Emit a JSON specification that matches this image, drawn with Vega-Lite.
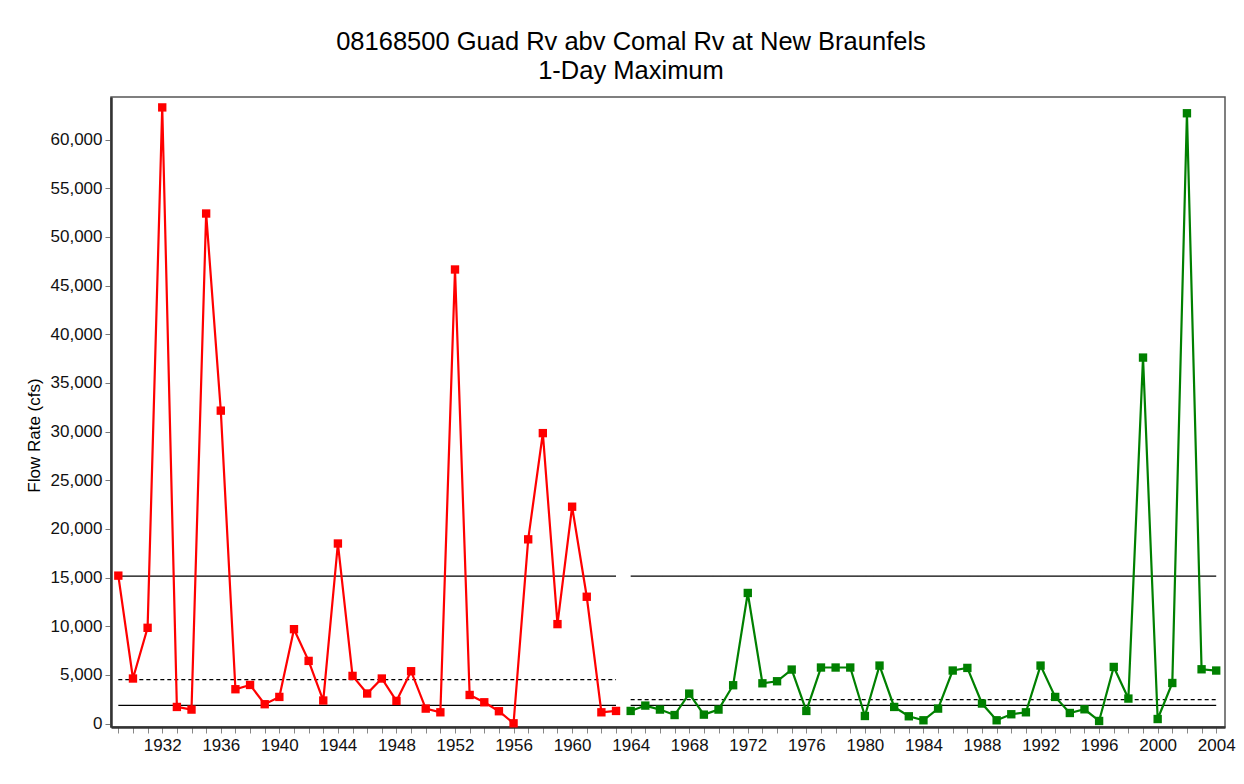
{
  "$schema": "https://vega.github.io/schema/vega-lite/v6.json",
  "autosize": "none",
  "width": 1114,
  "height": 630,
  "padding": {"left": 111, "top": 97, "right": 19, "bottom": 57},
  "background": "white",
  "config": {
    "font": "Liberation Sans",
    "view": {"stroke": "#555555", "strokeWidth": 1.5}
  },
  "title": {
    "text": ["08168500 Guad Rv abv Comal Rv at New Braunfels", "1-Day Maximum"],
    "font": "Liberation Sans",
    "fontSize": 25.5,
    "fontWeight": "normal",
    "color": "#000000",
    "anchor": "middle",
    "dx": -37,
    "offset": 13,
    "lineHeight": 29
  },
  "datasets": {
    "flows": [
      {"year": 1929, "flow": 15200, "period": "1929-1963"},
      {"year": 1930, "flow": 4630, "period": "1929-1963"},
      {"year": 1931, "flow": 9840, "period": "1929-1963"},
      {"year": 1932, "flow": 63300, "period": "1929-1963"},
      {"year": 1933, "flow": 1710, "period": "1929-1963"},
      {"year": 1934, "flow": 1440, "period": "1929-1963"},
      {"year": 1935, "flow": 52400, "period": "1929-1963"},
      {"year": 1936, "flow": 32150, "period": "1929-1963"},
      {"year": 1937, "flow": 3530, "period": "1929-1963"},
      {"year": 1938, "flow": 3970, "period": "1929-1963"},
      {"year": 1939, "flow": 1990, "period": "1929-1963"},
      {"year": 1940, "flow": 2740, "period": "1929-1963"},
      {"year": 1941, "flow": 9700, "period": "1929-1963"},
      {"year": 1942, "flow": 6440, "period": "1929-1963"},
      {"year": 1943, "flow": 2370, "period": "1929-1963"},
      {"year": 1944, "flow": 18500, "period": "1929-1963"},
      {"year": 1945, "flow": 4900, "period": "1929-1963"},
      {"year": 1946, "flow": 3090, "period": "1929-1963"},
      {"year": 1947, "flow": 4630, "period": "1929-1963"},
      {"year": 1948, "flow": 2330, "period": "1929-1963"},
      {"year": 1949, "flow": 5380, "period": "1929-1963"},
      {"year": 1950, "flow": 1540, "period": "1929-1963"},
      {"year": 1951, "flow": 1160, "period": "1929-1963"},
      {"year": 1952, "flow": 46650, "period": "1929-1963"},
      {"year": 1953, "flow": 2940, "period": "1929-1963"},
      {"year": 1954, "flow": 2190, "period": "1929-1963"},
      {"year": 1955, "flow": 1270, "period": "1929-1963"},
      {"year": 1956, "flow": 30, "period": "1929-1963"},
      {"year": 1957, "flow": 18930, "period": "1929-1963"},
      {"year": 1958, "flow": 29840, "period": "1929-1963"},
      {"year": 1959, "flow": 10220, "period": "1929-1963"},
      {"year": 1960, "flow": 22280, "period": "1929-1963"},
      {"year": 1961, "flow": 13030, "period": "1929-1963"},
      {"year": 1962, "flow": 1160, "period": "1929-1963"},
      {"year": 1963, "flow": 1300, "period": "1929-1963"},
      {"year": 1964, "flow": 1300, "period": "1964-2004"},
      {"year": 1965, "flow": 1850, "period": "1964-2004"},
      {"year": 1966, "flow": 1440, "period": "1964-2004"},
      {"year": 1967, "flow": 880, "period": "1964-2004"},
      {"year": 1968, "flow": 3080, "period": "1964-2004"},
      {"year": 1969, "flow": 920, "period": "1964-2004"},
      {"year": 1970, "flow": 1440, "period": "1964-2004"},
      {"year": 1971, "flow": 3940, "period": "1964-2004"},
      {"year": 1972, "flow": 13420, "period": "1964-2004"},
      {"year": 1973, "flow": 4140, "period": "1964-2004"},
      {"year": 1974, "flow": 4350, "period": "1964-2004"},
      {"year": 1975, "flow": 5550, "period": "1964-2004"},
      {"year": 1976, "flow": 1300, "period": "1964-2004"},
      {"year": 1977, "flow": 5760, "period": "1964-2004"},
      {"year": 1978, "flow": 5760, "period": "1964-2004"},
      {"year": 1979, "flow": 5760, "period": "1964-2004"},
      {"year": 1980, "flow": 780, "period": "1964-2004"},
      {"year": 1981, "flow": 5960, "period": "1964-2004"},
      {"year": 1982, "flow": 1710, "period": "1964-2004"},
      {"year": 1983, "flow": 750, "period": "1964-2004"},
      {"year": 1984, "flow": 340, "period": "1964-2004"},
      {"year": 1985, "flow": 1540, "period": "1964-2004"},
      {"year": 1986, "flow": 5450, "period": "1964-2004"},
      {"year": 1987, "flow": 5720, "period": "1964-2004"},
      {"year": 1988, "flow": 2060, "period": "1964-2004"},
      {"year": 1989, "flow": 340, "period": "1964-2004"},
      {"year": 1990, "flow": 960, "period": "1964-2004"},
      {"year": 1991, "flow": 1160, "period": "1964-2004"},
      {"year": 1992, "flow": 5960, "period": "1964-2004"},
      {"year": 1993, "flow": 2740, "period": "1964-2004"},
      {"year": 1994, "flow": 1090, "period": "1964-2004"},
      {"year": 1995, "flow": 1470, "period": "1964-2004"},
      {"year": 1996, "flow": 270, "period": "1964-2004"},
      {"year": 1997, "flow": 5820, "period": "1964-2004"},
      {"year": 1998, "flow": 2570, "period": "1964-2004"},
      {"year": 1999, "flow": 37600, "period": "1964-2004"},
      {"year": 2000, "flow": 470, "period": "1964-2004"},
      {"year": 2001, "flow": 4170, "period": "1964-2004"},
      {"year": 2002, "flow": 62700, "period": "1964-2004"},
      {"year": 2003, "flow": 5580, "period": "1964-2004"},
      {"year": 2004, "flow": 5450, "period": "1964-2004"}
    ],
    "thresholds": [
      {"start": 1929, "end": 1963, "value": 15150, "kind": "solid"},
      {"start": 1929, "end": 1963, "value": 4520, "kind": "dashed"},
      {"start": 1929, "end": 1963, "value": 1880, "kind": "solid"},
      {"start": 1964, "end": 2004, "value": 15150, "kind": "solid"},
      {"start": 1964, "end": 2004, "value": 2470, "kind": "dashed"},
      {"start": 1964, "end": 2004, "value": 1880, "kind": "solid"}
    ]
  },
  "encoding": {
    "x": {
      "type": "quantitative",
      "scale": {"domain": [1928.5, 2004.6], "nice": false, "zero": false},
      "axis": {
        "values": [1929,1930,1931,1932,1933,1934,1935,1936,1937,1938,1939,1940,1941,1942,1943,1944,1945,1946,1947,1948,1949,1950,1951,1952,1953,1954,1955,1956,1957,1958,1959,1960,1961,1962,1963,1964,1965,1966,1967,1968,1969,1970,1971,1972,1973,1974,1975,1976,1977,1978,1979,1980,1981,1982,1983,1984,1985,1986,1987,1988,1989,1990,1991,1992,1993,1994,1995,1996,1997,1998,1999,2000,2001,2002,2003,2004],
        "tickCount": 200,
        "format": "d",
        "labelExpr": "datum.value % 4 == 0 ? datum.label : ''",
        "labelOverlap": false,
        "labelFlush": false,
        "labelFontSize": 17,
        "labelColor": "#111111",
        "labelPadding": 4,
        "tickSize": 6,
        "tickColor": "#888888",
        "domainColor": "#333333",
        "domainWidth": 2.5,
        "grid": false,
        "title": null
      }
    },
    "y": {
      "type": "quantitative",
      "scale": {"domain": [-350, 64370], "nice": false, "zero": false},
      "axis": {
        "values": [0,5000,10000,15000,20000,25000,30000,35000,40000,45000,50000,55000,60000],
        "format": ",d",
        "labelFontSize": 17,
        "labelColor": "#111111",
        "labelPadding": 3,
        "tickSize": 6,
        "tickColor": "#777777",
        "domainColor": "#333333",
        "domainWidth": 2.5,
        "grid": false,
        "title": "Flow Rate (cfs)",
        "titleFontSize": 17,
        "titleFontWeight": "normal",
        "titleColor": "#000000",
        "titlePadding": 7,
        "titleY": 338
      }
    }
  },
  "layer": [
    {
      "data": {"name": "thresholds"},
      "mark": {"type": "rule", "color": "#000000", "strokeWidth": 1.3},
      "encoding": {
        "x": {"field": "start", "type": "quantitative"},
        "x2": {"field": "end"},
        "y": {"field": "value", "type": "quantitative"},
        "strokeDash": {"field": "kind", "type": "nominal", "scale": {"domain": ["solid", "dashed"], "range": [[1, 0], [4, 3]]}, "legend": null}
      }
    },
    {
      "data": {"name": "flows"},
      "mark": {"type": "line", "strokeWidth": 2.2, "point": {"shape": "square", "filled": true, "size": 70, "opacity": 1}},
      "encoding": {
        "x": {"field": "year", "type": "quantitative"},
        "y": {"field": "flow", "type": "quantitative"},
        "color": {"field": "period", "type": "nominal", "scale": {"domain": ["1929-1963", "1964-2004"], "range": ["#ff0000", "#008000"]}, "legend": null}
      }
    }
  ]
}
